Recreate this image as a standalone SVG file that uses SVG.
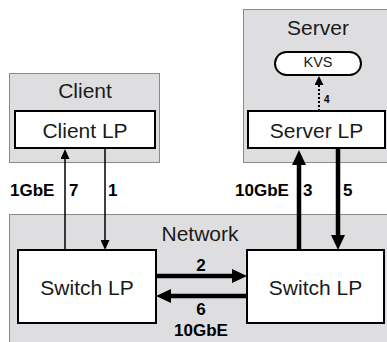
<svg xmlns="http://www.w3.org/2000/svg" width="387" height="342" viewBox="0 0 387 342">
<style>
.grp{fill:#dedee0;stroke:#8a8a8a;stroke-width:1}
.node{fill:#fff;stroke:#000;stroke-width:2}
.t{font-family:"Liberation Sans",Arial,sans-serif;font-size:21px;fill:#1a1a1a;text-anchor:middle}
.lb{font-family:"Liberation Sans",Arial,sans-serif;font-size:17px;font-weight:bold;fill:#000}
.thin{stroke:#000;stroke-width:1.5;fill:none}
.thick{stroke:#000;stroke-width:4.5;fill:none}
.dot{stroke:#000;stroke-width:2;stroke-dasharray:2 2;fill:none}
</style>
<defs>
<marker id="ahThick" markerUnits="userSpaceOnUse" markerWidth="16" markerHeight="14" refX="3" refY="7" orient="auto"><path d="M0,0 L15,7 L0,14 Z" fill="#000"/></marker>
<marker id="ahThin" markerUnits="userSpaceOnUse" markerWidth="11" markerHeight="9" refX="2" refY="4.5" orient="auto"><path d="M0,0 L10,4.5 L0,9 Z" fill="#000"/></marker>
<marker id="ahDot" markerUnits="userSpaceOnUse" markerWidth="10" markerHeight="9" refX="1" refY="4.5" orient="auto"><path d="M0,0 L9,4.5 L0,9 Z" fill="#000"/></marker>
</defs>
<g id="client">
<rect class="grp" x="9.5" y="73.5" width="150" height="89"/>
<text class="t" x="85" y="97.5">Client</text>
</g>
<g id="server">
<rect class="grp" x="243.5" y="9.5" width="150" height="153"/>
<text class="t" x="318" y="35">Server</text>
</g>
<g id="network">
<rect class="grp" x="9.5" y="214.5" width="390" height="140"/>
<text class="t" x="200" y="241">Network</text>
</g>
<g id="client-lp">
<rect class="node" x="15" y="111" width="140" height="37"/>
<text class="t" x="85" y="138">Client LP</text>
</g>
<g id="kvs">
<rect class="node" x="275" y="52" width="86" height="23" rx="11.5"/>
<text class="t" x="318" y="67" style="font-size:14.5px">KVS</text>
</g>
<g id="server-lp">
<rect class="node" x="248" y="111" width="137" height="37"/>
<text class="t" x="316.5" y="138">Server LP</text>
</g>
<g id="switch-left">
<rect class="node" x="18" y="250" width="138" height="73"/>
<text class="t" x="87" y="295">Switch LP</text>
</g>
<g id="switch-right">
<rect class="node" x="247" y="250" width="137" height="73"/>
<text class="t" x="315.5" y="295">Switch LP</text>
</g>
<g id="connectors">
<line class="thin" x1="105" y1="149" x2="105" y2="242" marker-end="url(#ahThin)"/>
<line class="thin" x1="65" y1="250" x2="65" y2="157" marker-end="url(#ahThin)"/>
<line class="thick" x1="157" y1="276" x2="235" y2="276" marker-end="url(#ahThick)"/>
<line class="thick" x1="246" y1="296" x2="168" y2="296" marker-end="url(#ahThick)"/>
<line class="thick" x1="299" y1="250" x2="299" y2="162" marker-end="url(#ahThick)"/>
<line class="thick" x1="338" y1="149" x2="338" y2="238" marker-end="url(#ahThick)"/>
<line class="dot" x1="319" y1="111" x2="319" y2="84" marker-end="url(#ahDot)"/>
</g>
<g id="labels">
<text class="lb" x="10" y="196">1GbE</text>
<text class="lb" x="69" y="196">7</text>
<text class="lb" x="108" y="196">1</text>
<text class="lb" x="235" y="196">10GbE</text>
<text class="lb" x="303" y="196">3</text>
<text class="lb" x="343" y="196">5</text>
<text class="lb" x="324" y="103" style="font-size:10px">4</text>
<text class="lb" x="201" y="271" text-anchor="middle">2</text>
<text class="lb" x="201" y="315" text-anchor="middle">6</text>
<text class="lb" x="201" y="336" text-anchor="middle">10GbE</text>
</g>
</svg>
